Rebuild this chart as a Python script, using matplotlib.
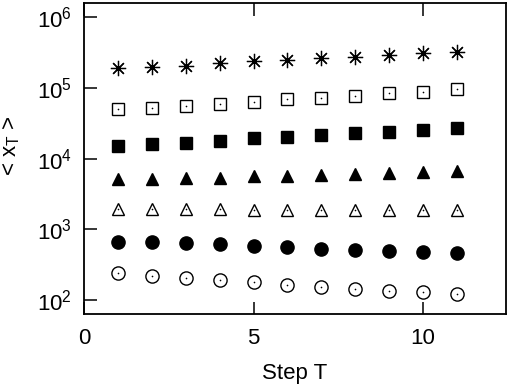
import matplotlib
matplotlib.use('Agg')
import matplotlib.pyplot as plt

plt.rcParams['font.family'] = ['Liberation Sans', 'DejaVu Sans']
plt.rcParams['mathtext.fontset'] = 'custom'
plt.rcParams['mathtext.rm'] = 'Liberation Sans'
plt.rcParams['mathtext.it'] = 'Liberation Sans'

steps = [1, 2, 3, 4, 5, 6, 7, 8, 9, 10, 11]

# one series per marker, top to bottom
asterisk = [1.90e5, 1.96e5, 2.03e5, 2.23e5, 2.39e5, 2.47e5, 2.63e5, 2.72e5, 2.90e5, 3.10e5, 3.20e5]
open_sq = [5.0e4, 5.16e4, 5.51e4, 5.89e4, 6.28e4, 6.92e4, 7.15e4, 7.63e4, 8.41e4, 8.69e4, 9.59e4]
filled_sq = [1.50e4, 1.60e4, 1.65e4, 1.76e4, 1.94e4, 2.01e4, 2.14e4, 2.29e4, 2.36e4, 2.52e4, 2.69e4]
filled_tri = [5.1e3, 5.2e3, 5.3e3, 5.4e3, 5.6e3, 5.7e3, 5.9e3, 6.0e3, 6.2e3, 6.4e3, 6.6e3]
open_tri = [1.92e3, 1.92e3, 1.91e3, 1.91e3, 1.90e3, 1.90e3, 1.89e3, 1.89e3, 1.88e3, 1.88e3, 1.87e3]
filled_circ = [658, 652, 631, 610, 582, 553, 523, 506, 490, 470, 455]
open_circ = [237, 219, 202, 191, 177, 162, 153, 145, 135, 128, 121]

ytick_vals = [1e2, 1e3, 1e4, 1e5, 1e6]
ytick_labels = ['10$^2$', '10$^3$', '10$^4$', '10$^5$', '10$^6$']

fig = plt.figure(figsize=(5.1, 3.84), dpi=100)
ax = fig.add_axes([0.165, 0.182, 0.827, 0.81])

ax.plot(steps, asterisk, linestyle='none', marker=(8, 2, 0), ms=11, mec='black', mew=0.9)
ax.plot(steps, open_sq, linestyle='none', marker='s', ms=9, mfc='white', mec='black', mew=1.0)
ax.plot(steps, filled_sq, linestyle='none', marker='s', ms=9, color='black')
ax.plot(steps, filled_tri, linestyle='none', marker='^', ms=9, color='black')
ax.plot(steps, open_tri, linestyle='none', marker='^', ms=9, mfc='white', mec='black', mew=1.0)
ax.plot(steps, filled_circ, linestyle='none', marker='o', ms=9.5, color='black')
ax.plot(steps, open_circ, linestyle='none', marker='o', ms=9.5, mfc='white', mec='black', mew=1.0)

# small centre dots, gnuplot style
for ys in [asterisk, open_sq, open_tri, open_circ]:
    ax.plot(steps, ys, linestyle='none', marker='o', ms=1.2, color='black', mew=0)

ax.set_yscale('log')
ax.set_xlim(0, 12.45)
ax.set_ylim(10**1.8, 10**6.2)
ax.set_xticks([0, 5, 10])
ax.set_yticks(ytick_vals)
ax.set_yticklabels(ytick_labels)
ax.minorticks_off()

ax.tick_params(axis='both', direction='in', length=9, width=1.1, labelsize=16,
               top=True, right=False)
ax.tick_params(axis='x', pad=10)
ax.tick_params(axis='y', pad=9)
for sp in ax.spines.values():
    sp.set_linewidth(1.3)

ax.set_xlabel('Step T', fontsize=16, labelpad=10)
ax.set_ylabel('< x$_\\mathregular{T}$ >', fontsize=16)
ax.yaxis.set_label_coords(-0.147, 0.543)

fig.savefig('out.png', dpi=100)
